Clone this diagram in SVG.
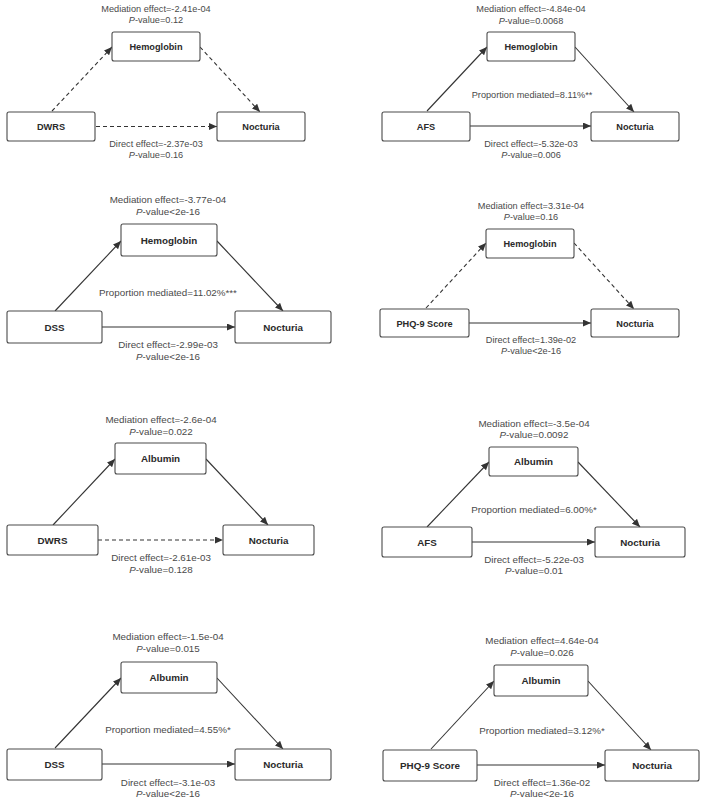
<svg xmlns="http://www.w3.org/2000/svg" width="708" height="804" viewBox="0 0 708 804">
<defs>
<style>
.box{fill:#fff;stroke:#4a4a4a;stroke-width:1.1}
.nl{font-family:"Liberation Sans",Arial,sans-serif;font-weight:bold;fill:#2a2a2a;text-anchor:middle}
.lb{font-family:"Liberation Sans",Arial,sans-serif;fill:#4a4a4a;text-anchor:middle}
.s{font-size:9.2px}
.b{font-size:9.8px}
.e{fill:none;stroke:#333;stroke-width:1.1;marker-end:url(#ah)}
.d{stroke-dasharray:4 3}
.i{font-style:italic}
</style>
<marker id="ah" markerUnits="userSpaceOnUse" markerWidth="9" markerHeight="7" refX="8" refY="3.5" orient="auto">
<path d="M0,0 L8,3.5 L0,7 z" fill="#333"/>
</marker>
</defs>
<rect width="708" height="804" fill="#fff"/>

<g id="connectors">
<!-- panel 1 -->
<line class="e d" x1="52" y1="111" x2="112" y2="47"/>
<line class="e d" x1="200" y1="47" x2="260" y2="112"/>
<line class="e d" x1="96" y1="126.5" x2="217" y2="126.5"/>
<!-- panel 2 -->
<line class="e" x1="427" y1="111" x2="487" y2="47"/>
<line class="e" x1="575" y1="47" x2="634" y2="112"/>
<line class="e" x1="470" y1="126" x2="591" y2="126"/>
<!-- panel 3 -->
<line class="e" x1="55" y1="311" x2="121" y2="241"/>
<line class="e" x1="217" y1="241" x2="283" y2="311"/>
<line class="e" x1="102" y1="327" x2="235" y2="327"/>
<!-- panel 4 -->
<line class="e d" x1="426" y1="308" x2="486" y2="243"/>
<line class="e d" x1="574" y1="243" x2="634" y2="309"/>
<line class="e" x1="469" y1="323" x2="591" y2="323"/>
<!-- panel 5 -->
<line class="e" x1="53" y1="525" x2="115" y2="459"/>
<line class="e" x1="206" y1="459" x2="268" y2="525"/>
<line class="e d" x1="98" y1="540" x2="223" y2="540"/>
<!-- panel 6 -->
<line class="e" x1="427" y1="527" x2="489" y2="462"/>
<line class="e" x1="578" y1="462" x2="640" y2="527"/>
<line class="e" x1="472" y1="542" x2="595" y2="542"/>
<!-- panel 7 -->
<line class="e" x1="55" y1="748" x2="121" y2="678"/>
<line class="e" x1="217" y1="678" x2="283" y2="749"/>
<line class="e" x1="102" y1="764" x2="235" y2="764"/>
<!-- panel 8 -->
<line class="e" x1="431" y1="749" x2="494" y2="681"/>
<line class="e" x1="588" y1="681" x2="651" y2="750"/>
<line class="e" x1="477" y1="765" x2="605" y2="765"/>
</g>

<!-- panel 1 nodes -->
<g id="p1-hemoglobin"><rect class="box" x="112" y="32" width="88" height="29" rx="2"/><text class="nl s" x="156" y="50">Hemoglobin</text></g>
<g id="p1-dwrs"><rect class="box" x="7" y="112" width="88" height="29" rx="2"/><text class="nl s" x="51" y="130">DWRS</text></g>
<g id="p1-nocturia"><rect class="box" x="217" y="112" width="88" height="29" rx="2"/><text class="nl s" x="261" y="130">Nocturia</text></g>
<!-- panel 2 nodes -->
<g id="p2-hemoglobin"><rect class="box" x="487" y="32" width="88" height="29" rx="2"/><text class="nl s" x="531" y="50">Hemoglobin</text></g>
<g id="p2-afs"><rect class="box" x="382" y="112" width="88" height="29" rx="2"/><text class="nl s" x="426" y="130">AFS</text></g>
<g id="p2-nocturia"><rect class="box" x="591" y="112" width="88" height="29" rx="2"/><text class="nl s" x="635" y="130">Nocturia</text></g>
<!-- panel 3 nodes -->
<g id="p3-hemoglobin"><rect class="box" x="121" y="224" width="96" height="32" rx="2"/><text class="nl b" x="169" y="243.5">Hemoglobin</text></g>
<g id="p3-dss"><rect class="box" x="7" y="311" width="95" height="32" rx="2"/><text class="nl b" x="54.5" y="330.5">DSS</text></g>
<g id="p3-nocturia"><rect class="box" x="235" y="311" width="96" height="32" rx="2"/><text class="nl b" x="283" y="330.5">Nocturia</text></g>
<!-- panel 4 nodes -->
<g id="p4-hemoglobin"><rect class="box" x="486" y="229" width="88" height="29" rx="2"/><text class="nl s" x="530" y="247">Hemoglobin</text></g>
<g id="p4-phq"><rect class="box" x="380" y="309" width="89" height="28" rx="2"/><text class="nl s" x="424.5" y="326.5">PHQ-9 Score</text></g>
<g id="p4-nocturia"><rect class="box" x="591" y="309" width="88" height="28" rx="2"/><text class="nl s" x="635" y="326.5">Nocturia</text></g>
<!-- panel 5 nodes -->
<g id="p5-albumin"><rect class="box" x="115" y="443" width="91" height="31" rx="2"/><text class="nl b" x="160.5" y="462">Albumin</text></g>
<g id="p5-dwrs"><rect class="box" x="7" y="525" width="91" height="30" rx="2"/><text class="nl b" x="52.5" y="543.5">DWRS</text></g>
<g id="p5-nocturia"><rect class="box" x="223" y="525" width="91" height="30" rx="2"/><text class="nl b" x="268.5" y="543.5">Nocturia</text></g>
<!-- panel 6 nodes -->
<g id="p6-albumin"><rect class="box" x="489" y="447" width="89" height="29" rx="2"/><text class="nl b" x="533.5" y="465">Albumin</text></g>
<g id="p6-afs"><rect class="box" x="382" y="527" width="90" height="30" rx="2"/><text class="nl b" x="427" y="545.5">AFS</text></g>
<g id="p6-nocturia"><rect class="box" x="595" y="527" width="90" height="30" rx="2"/><text class="nl b" x="640" y="545.5">Nocturia</text></g>
<!-- panel 7 nodes -->
<g id="p7-albumin"><rect class="box" x="121" y="662" width="96" height="31" rx="2"/><text class="nl b" x="169" y="681">Albumin</text></g>
<g id="p7-dss"><rect class="box" x="7" y="749" width="95" height="31" rx="2"/><text class="nl b" x="54.5" y="768">DSS</text></g>
<g id="p7-nocturia"><rect class="box" x="235" y="749" width="96" height="31" rx="2"/><text class="nl b" x="283" y="768">Nocturia</text></g>
<!-- panel 8 nodes -->
<g id="p8-albumin"><rect class="box" x="494" y="665" width="94" height="31" rx="2"/><text class="nl b" x="541" y="684">Albumin</text></g>
<g id="p8-phq"><rect class="box" x="383" y="750" width="94" height="31" rx="2"/><text class="nl b" x="430" y="769">PHQ-9 Score</text></g>
<g id="p8-nocturia"><rect class="box" x="605" y="750" width="94" height="31" rx="2"/><text class="nl b" x="652" y="769">Nocturia</text></g>

<g id="labels">
<!-- panel 1 -->
<text class="lb s" x="156" y="11.7">Mediation effect=-2.41e-04</text>
<text class="lb s" x="156" y="22.7"><tspan class="i">P</tspan>-value=0.12</text>
<text class="lb s" x="156" y="146.7">Direct effect=-2.37e-03</text>
<text class="lb s" x="156" y="157.5"><tspan class="i">P</tspan>-value=0.16</text>
<!-- panel 2 -->
<text class="lb s" x="531" y="12.3">Mediation effect=-4.84e-04</text>
<text class="lb s" x="531" y="24"><tspan class="i">P</tspan>-value=0.0068</text>
<text class="lb s" x="532" y="97.5">Proportion mediated=8.11%**</text>
<text class="lb s" x="531" y="146.7">Direct effect=-5.32e-03</text>
<text class="lb s" x="531" y="157.5"><tspan class="i">P</tspan>-value=0.006</text>
<!-- panel 3 -->
<text class="lb b" x="168" y="202.7">Mediation effect=-3.77e-04</text>
<text class="lb b" x="168" y="214.7"><tspan class="i">P</tspan>-value&lt;2e-16</text>
<text class="lb b" x="168" y="296">Proportion mediated=11.02%***</text>
<text class="lb b" x="168" y="348.3">Direct effect=-2.99e-03</text>
<text class="lb b" x="168" y="359.5"><tspan class="i">P</tspan>-value&lt;2e-16</text>
<!-- panel 4 -->
<text class="lb s" x="531" y="209">Mediation effect=3.31e-04</text>
<text class="lb s" x="531" y="219.5"><tspan class="i">P</tspan>-value=0.16</text>
<text class="lb s" x="531" y="342.7">Direct effect=1.39e-02</text>
<text class="lb s" x="531" y="353.7"><tspan class="i">P</tspan>-value&lt;2e-16</text>
<!-- panel 5 -->
<text class="lb b" x="161" y="423.3">Mediation effect=-2.6e-04</text>
<text class="lb b" x="161" y="434.5"><tspan class="i">P</tspan>-value=0.022</text>
<text class="lb b" x="161" y="561">Direct effect=-2.61e-03</text>
<text class="lb b" x="161" y="572.7"><tspan class="i">P</tspan>-value=0.128</text>
<!-- panel 6 -->
<text class="lb b" x="534" y="426.7">Mediation effect=-3.5e-04</text>
<text class="lb b" x="534" y="437.7"><tspan class="i">P</tspan>-value=0.0092</text>
<text class="lb b" x="534" y="513.3">Proportion mediated=6.00%*</text>
<text class="lb b" x="534" y="562.7">Direct effect=-5.22e-03</text>
<text class="lb b" x="534" y="574"><tspan class="i">P</tspan>-value=0.01</text>
<!-- panel 7 -->
<text class="lb b" x="168" y="640">Mediation effect=-1.5e-04</text>
<text class="lb b" x="168" y="652.3"><tspan class="i">P</tspan>-value=0.015</text>
<text class="lb b" x="168" y="733.3">Proportion mediated=4.55%*</text>
<text class="lb b" x="168" y="786">Direct effect=-3.1e-03</text>
<text class="lb b" x="168" y="797.3"><tspan class="i">P</tspan>-value&lt;2e-16</text>
<!-- panel 8 -->
<text class="lb b" x="542" y="644">Mediation effect=4.64e-04</text>
<text class="lb b" x="542" y="655.7"><tspan class="i">P</tspan>-value=0.026</text>
<text class="lb b" x="542" y="734.3">Proportion mediated=3.12%*</text>
<text class="lb b" x="542" y="786">Direct effect=1.36e-02</text>
<text class="lb b" x="542" y="797.3"><tspan class="i">P</tspan>-value&lt;2e-16</text>
</g>
</svg>
